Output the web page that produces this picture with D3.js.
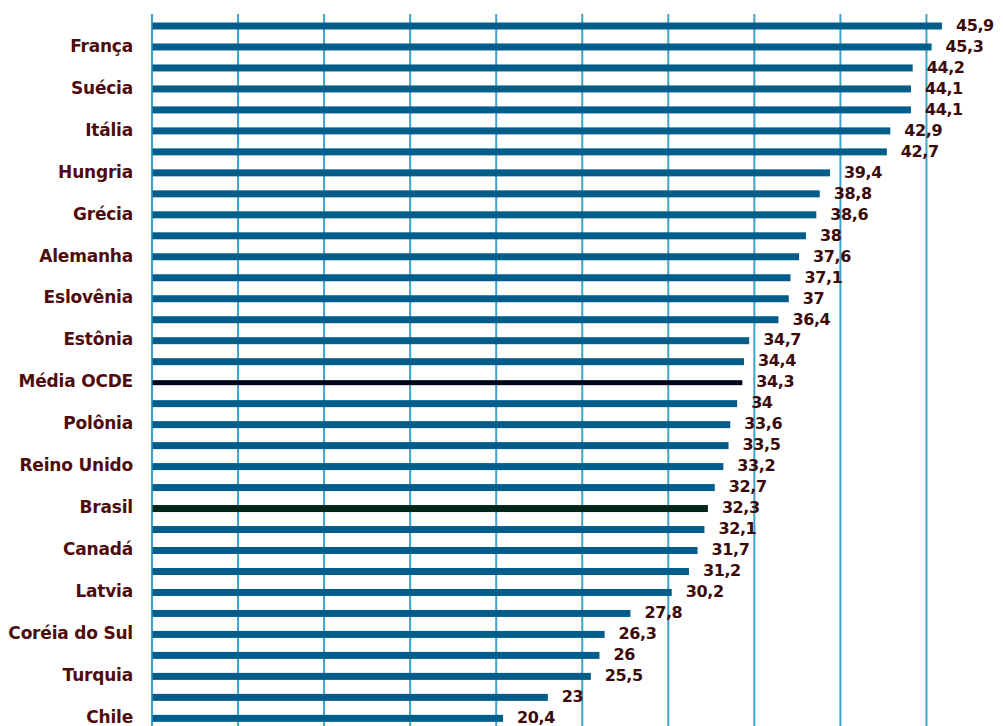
<!DOCTYPE html>
<html>
<head>
<meta charset="utf-8">
<script src="https://cdn.jsdelivr.net/npm/d3@7"></script>
<style>
  body { margin: 0; background: #fff; }
</style>
</head>
<body>
<div id="chart"></div>
<script>
// one label every second bar, blank for the others
const countries = ["", "França", "", "Suécia", "", "Itália", "", "Hungria", "", "Grécia",
  "", "Alemanha", "", "Eslovênia", "", "Estônia", "", "Média OCDE", "", "Polônia",
  "", "Reino Unido", "", "Brasil", "", "Canadá", "", "Latvia", "", "Coréia do Sul",
  "", "Turquia", "", "Chile"];
const values = [45.9, 45.3, 44.2, 44.1, 44.1, 42.9, 42.7, 39.4, 38.8, 38.6,
  38, 37.6, 37.1, 37, 36.4, 34.7, 34.4, 34.3, 34, 33.6,
  33.5, 33.2, 32.7, 32.3, 32.1, 31.7, 31.2, 30.2, 27.8, 26.3,
  26, 25.5, 23, 20.4];
const gridTicks = [0, 5, 10, 15, 20, 25, 30, 35, 40, 45];

const data = values.map((v, i) => ({ i, name: countries[i], value: v }));

const W = 1003, H = 726;
const svg = d3.select("#chart").append("svg")
  .attr("width", W).attr("height", H);

const x = d3.scaleLinear().domain([0, 50]).range([152, 1012.5]);
const step = 20.98;
const y = d3.scaleBand().domain(d3.range(values.length))
  .range([26 - step / 2, 26 - step / 2 + step * values.length])
  .paddingInner(0.667).paddingOuter(0.333);

const barColor = i => countries[i] === "Média OCDE" ? "#02061c"
  : countries[i] === "Brasil" ? "#032418" : "#025d8b";

// gridlines
svg.append("g").selectAll("line")
  .data(gridTicks)
  .enter().append("line")
  .attr("x1", d => x(d)).attr("x2", d => x(d))
  .attr("y1", 14).attr("y2", H)
  .attr("stroke", "#3ea3cc")
  .attr("stroke-width", d => d === 0 ? 2.2 : 2);

// bars
svg.append("g").selectAll("rect")
  .data(data)
  .enter().append("rect")
  .attr("x", x(0) + 0.5)
  .attr("y", d => d.name === "Média OCDE" ? y(d.i) + 1 : y(d.i))
  .attr("width", d => x(d.value) - x(0) - 0.5)
  .attr("height", d => d.name === "Média OCDE" ? y.bandwidth() - 2 : y.bandwidth())
  .attr("fill", d => barColor(d.i));

// category labels
svg.append("g").selectAll("text")
  .data(data.filter(d => d.name))
  .enter().append("text")
  .attr("x", 133)
  .attr("y", d => y(d.i) + y.bandwidth() / 2)
  .attr("dy", "0.28em")
  .attr("text-anchor", "end")
  .attr("font-family", "DejaVu Sans, sans-serif")
  .attr("font-weight", "bold")
  .attr("font-size", "17px")
  .attr("letter-spacing", "-0.2px")
  .attr("fill", "#4e0c0c")
  .text(d => d.name);

// value labels
svg.append("g").selectAll("text")
  .data(data)
  .enter().append("text")
  .attr("x", d => x(d.value) + 14)
  .attr("y", d => y(d.i) + y.bandwidth() / 2)
  .attr("dy", "0.3em")
  .attr("font-family", "DejaVu Sans, sans-serif")
  .attr("font-weight", "bold")
  .attr("font-size", "16px")
  .attr("letter-spacing", "-0.4px")
  .attr("fill", "#3c0a0a")
  .text(d => String(d.value).replace(".", ","));
</script>
</body>
</html>
